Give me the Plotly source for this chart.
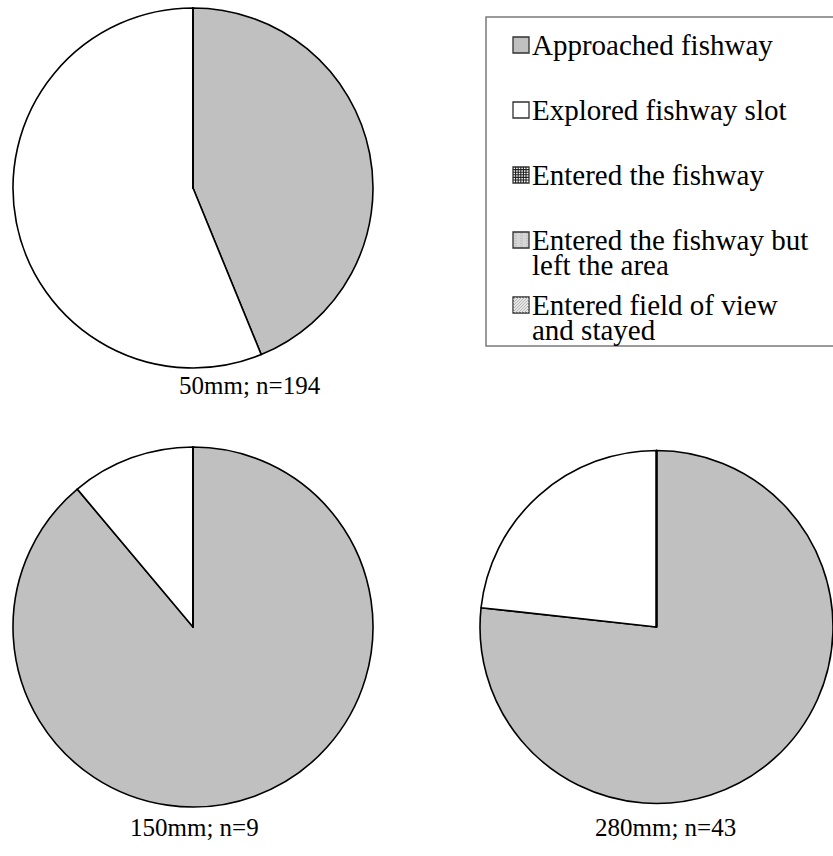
import plotly.graph_objects as go

# ---------------- data ----------------
CATEGORIES = [
    "Approached fishway",
    "Explored fishway slot",
    "Entered the fishway",
    "Entered the fishway but\nleft the area",
    "Entered field of view\nand stayed",
]
VALUES_50MM = [85, 109, 0, 0, 0]
VALUES_150MM = [8, 1, 0, 0, 0]
VALUES_280MM = [33, 10, 0, 0, 0]
PIE_TITLES = ["50mm; n=194", "150mm; n=9", "280mm; n=43"]
SLICE_COLORS = ["#c0c0c0", "#ffffff", "#3a3a3a", "#d6d6d6", "#e6e6e6"]

# ---------------- layout helpers ----------------
W, H = 833, 856
FONT = "Liberation Serif, Times New Roman, serif"
FS_LEG = 29
FS_TITLE = 25


def px(x):
    return x / W


def py(y):
    return 1 - y / H


fig = go.Figure()

pies = [
    (VALUES_50MM, (13, 373), (8, 368)),
    (VALUES_150MM, (13, 373), (447, 807)),
    (VALUES_280MM, (480, 833), (449, 805)),
]
for vals, (x0, x1), (y0, y1) in pies:
    fig.add_trace(go.Pie(
        labels=[c.replace("\n", " ") for c in CATEGORIES],
        values=vals,
        sort=False,
        direction="clockwise",
        rotation=0,
        textinfo="none",
        hoverinfo="label+value",
        showlegend=False,
        marker=dict(colors=SLICE_COLORS, line=dict(color="black", width=1.6)),
        domain=dict(x=[px(x0), px(x1)], y=[py(y1), py(y0)]),
    ))

annotations = []
# pie titles
title_pos = [(250, 385), (194, 827), (665, 827)]
for t, (cx, cy) in zip(PIE_TITLES, title_pos):
    annotations.append(dict(
        text=t, x=px(cx), y=py(cy), xref="paper", yref="paper",
        xanchor="center", yanchor="middle", showarrow=False,
        font=dict(family=FONT, size=FS_TITLE, color="black"),
    ))

shapes = []
# legend box
LEG_L, LEG_T, LEG_B = 486, 17, 346
shapes.append(dict(type="rect", xref="paper", yref="paper",
                   x0=px(LEG_L), x1=px(W + 5), y0=py(LEG_B), y1=py(LEG_T),
                   line=dict(color="#7a7a7a", width=1.5), fillcolor="white", layer="below"))

item_y = [44, 109, 174, 239, 304]
line_gap = 25
SW = 16
SX = 513
for i, (cat, yc) in enumerate(zip(CATEGORIES, item_y)):
    lines = cat.split("\n")
    for k, ln in enumerate(lines):
        annotations.append(dict(
            text=ln, x=px(530), y=py(yc + k * line_gap + 1), xref="paper", yref="paper",
            xanchor="left", yanchor="middle", showarrow=False,
            font=dict(family=FONT, size=FS_LEG, color="black"),
        ))
    sx0, sx1 = SX, SX + SW
    sy0, sy1 = yc - SW / 2 + 1, yc + SW / 2 + 1
    shapes.append(dict(type="rect", xref="paper", yref="paper",
                       x0=px(sx0), x1=px(sx1), y0=py(sy1), y1=py(sy0),
                       fillcolor="white" if i == 2 else SLICE_COLORS[i],
                       line=dict(color="#303030", width=1.3)))
    # swatch patterns
    if i == 2:  # fine grid
        p = ""
        step = 2.6
        t = sx0 + step
        while t < sx1 - 0.5:
            p += f"M{px(t)},{py(sy0)} L{px(t)},{py(sy1)} "
            t += step
        t = sy0 + step
        while t < sy1 - 0.5:
            p += f"M{px(sx0)},{py(t)} L{px(sx1)},{py(t)} "
            t += step
        shapes.append(dict(type="path", xref="paper", yref="paper", path=p,
                           line=dict(color="#202020", width=1.1)))
    elif i == 4:  # diagonal hatch
        p = ""
        step = 3.0
        d = -SW + step
        while d < SW:
            ax0 = max(0, d)
            ay0 = ax0 - d
            ax1 = min(SW, SW + d)
            ay1 = ax1 - d
            if ax1 > ax0:
                p += (f"M{px(sx0 + ax0)},{py(sy1 - ay0)} "
                      f"L{px(sx0 + ax1)},{py(sy1 - ay1)} ")
            d += step
        shapes.append(dict(type="path", xref="paper", yref="paper", path=p,
                           line=dict(color="#a8a8a8", width=0.8)))
    elif i == 3:  # dotted
        p = ""
        step = 2.5
        yy = sy0 + 1.5
        while yy < sy1 - 1:
            p += f"M{px(sx0 + 1)},{py(yy)} L{px(sx1 - 1)},{py(yy)} "
            yy += step
        shapes.append(dict(type="path", xref="paper", yref="paper", path=p,
                           line=dict(color="#b8b8b8", width=0.7, dash="dot")))

fig.update_layout(
    width=W, height=H,
    margin=dict(l=0, r=0, t=0, b=0),
    paper_bgcolor="white", plot_bgcolor="white",
    showlegend=False,
    annotations=annotations,
    shapes=shapes,
)

fig.write_html("out.html", config={"displayModeBar": False},
               post_script="document.body.style.margin='0';")
